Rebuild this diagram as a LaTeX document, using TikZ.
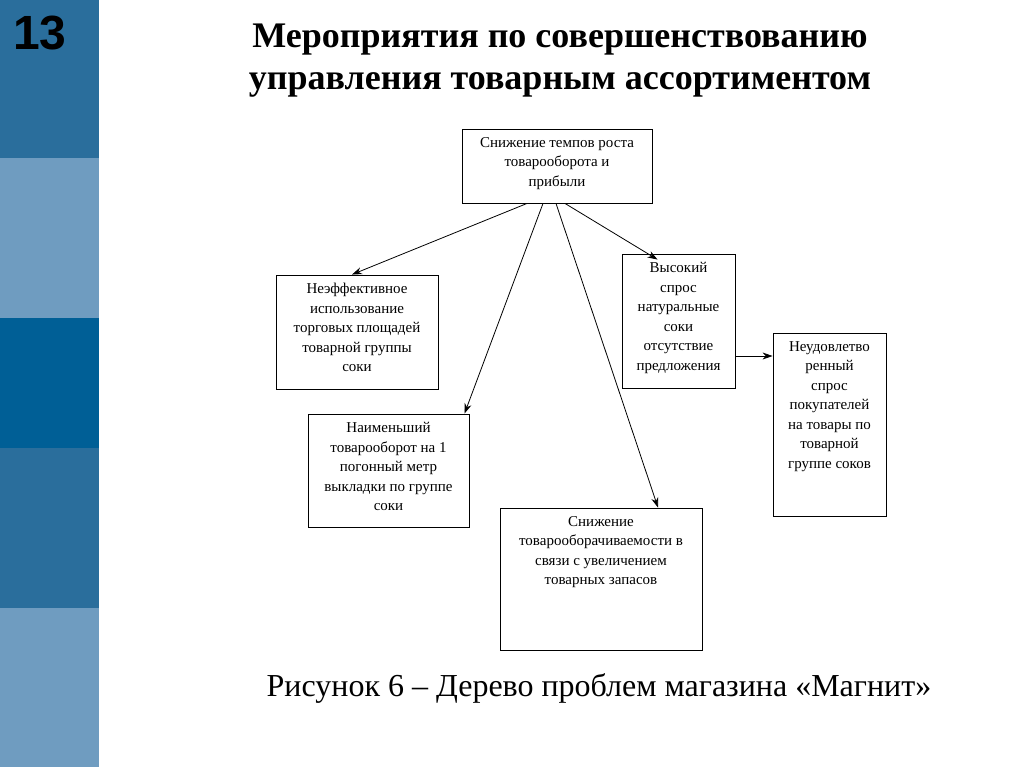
\documentclass[tikz,border=0pt]{standalone}
\usepackage{fontspec}
\setmainfont{Liberation Serif}
\newfontfamily\numfont{Liberation Sans}
\usetikzlibrary{arrows.meta}
\definecolor{bA}{HTML}{2A6E9C}
\definecolor{bB}{HTML}{6F9CC0}
\definecolor{bC}{HTML}{005F96}
\begin{document}
\begin{tikzpicture}[x=1pt,y=-1pt,
  bx/.style={draw,line width=0.9pt,inner sep=0pt},
  tx/.style={align=center,font=\fontsize{15}{19.5}\selectfont,anchor=north},
  ar/.style={-{Stealth[length=10pt,width=7pt]},line width=0.8pt}]
\useasboundingbox (0,0) rectangle (1024,767);
\fill[bA] (0,0) rectangle (99,158);
\fill[bB] (0,158) rectangle (99,318);
\fill[bC] (0,318) rectangle (99,448);
\fill[bA] (0,448) rectangle (99,608);
\fill[bB] (0,608) rectangle (99,767);
\node (num) at (40,33) {\numfont\bfseries\fontsize{48}{48}\selectfont 13};
\node[align=center,font=\bfseries\fontsize{36}{42}\selectfont] (title) at (560,61) {Мероприятия по совершенствованию\\управления товарным ассортиментом};
\node[bx,minimum width=190,minimum height=74] (top) at (557,166) {};
\node[tx] at (557,134) {Снижение темпов роста\\товарооборота и\\прибыли};
\node[bx,minimum width=162,minimum height=114] (b1) at (357,332) {};
\node[tx] at (357,280) {Неэффективное\\использование\\торговых площадей\\товарной группы\\соки};
\node[bx,minimum width=161,minimum height=113] (b2) at (388.5,470.5) {};
\node[tx] at (388.5,419) {Наименьший\\товарооборот на 1\\погонный метр\\выкладки по группе\\соки};
\node[bx,minimum width=202,minimum height=142] (b3) at (601,579) {};
\node[tx] at (601,513) {Снижение\\товарооборачиваемости в\\связи с увеличением\\товарных запасов};
\node[bx,minimum width=113,minimum height=134] (b4) at (678.5,321) {};
\node[tx] at (678.5,259) {Высокий\\спрос\\натуральные\\соки\\отсутствие\\предложения};
\node[bx,minimum width=113,minimum height=183] (b5) at (829.5,424.5) {};
\node[tx] at (829.5,338) {Неудовлетво\\ренный\\спрос\\покупателей\\на товары по\\товарной\\группе соков};
\coordinate (r1) at (735,356);
\draw[ar] ([xshift=-30pt]top.south) -- ([xshift=-5pt]b1.north);
\draw[ar] ([xshift=-14pt]top.south) -- ([xshift=76pt]b2.north);
\draw[ar] ([xshift=-1pt]top.south) -- ([xshift=57pt]b3.north);
\draw[ar] ([xshift=8pt]top.south) -- ([xshift=-21pt,yshift=-6pt]b4.north);
\draw[ar] (r1) -- (b5.west |- r1);
\node[font=\fontsize{32}{32}\selectfont] (cap) at (599,688) {Рисунок 6 – Дерево проблем магазина «Магнит»};
\end{tikzpicture}
\end{document}
